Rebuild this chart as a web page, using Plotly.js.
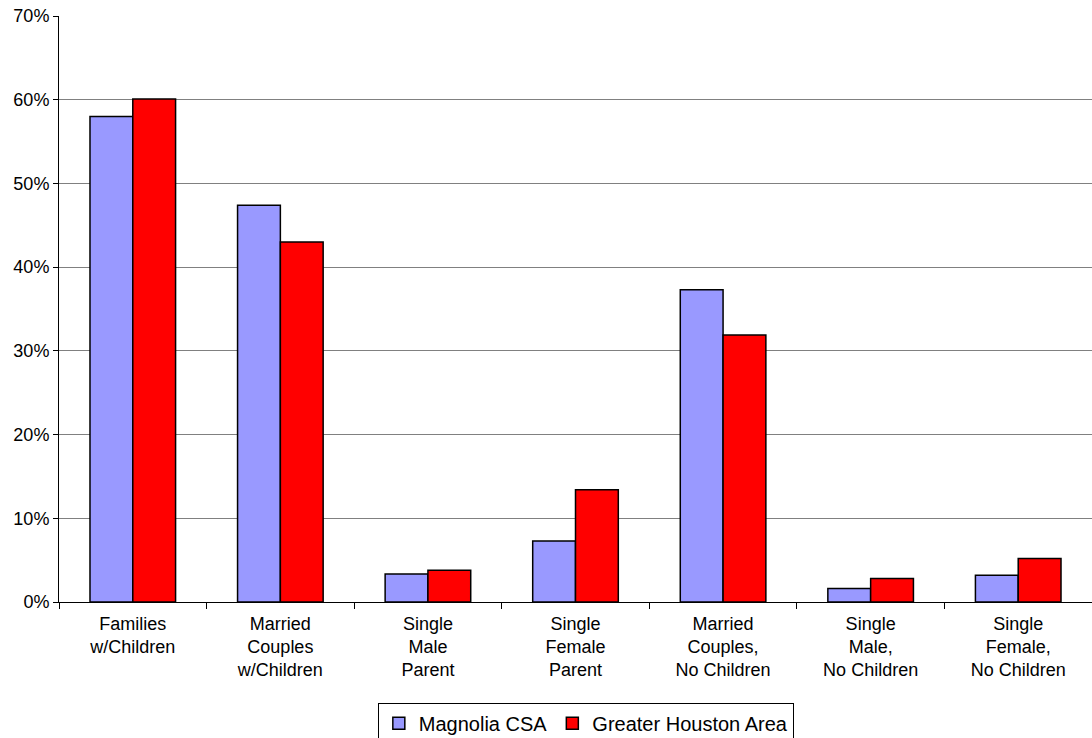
<!DOCTYPE html>
<html>
<head>
<meta charset="utf-8">
<script src="https://cdn.plot.ly/plotly-3.0.1.min.js"></script>
<style>html,body{margin:0;padding:0;background:#fff;}#chart{width:1092px;height:738px;}</style>
</head>
<body>
<div id="chart"></div>
<script>
const categories = ["Families<br>w/Children", "Married<br>Couples<br>w/Children", "Single<br>Male<br>Parent", "Single<br>Female<br>Parent", "Married<br>Couples,<br>No Children", "Single<br>Male,<br>No Children", "Single<br>Female,<br>No Children"];
const magnolia = [58.0, 47.4, 3.35, 7.3, 37.3, 1.6, 3.2];
const houston = [60.1, 43.0, 3.8, 13.4, 31.9, 2.8, 5.2];
const yTicks = [0, 10, 20, 30, 40, 50, 60, 70];

const traces = [
  {type: 'bar', name: 'Magnolia CSA', x: categories, y: magnolia,
   marker: {color: '#9999FF', line: {color: '#000', width: 1.5}}},
  {type: 'bar', name: 'Greater Houston Area', x: categories, y: houston,
   marker: {color: '#FF0000', line: {color: '#000', width: 1.5}}}
];
const layout = {
  width: 1092, height: 738,
  margin: {l: 59, r: 0, t: 16, b: 136, autoexpand: false},
  paper_bgcolor: '#fff', plot_bgcolor: '#fff',
  font: {family: 'Liberation Sans, Arial, sans-serif', size: 18, color: '#000'},
  barmode: 'group', bargap: 0.42, bargroupgap: 0,
  showlegend: true,
  legend: {orientation: 'h', x: 0.51, xanchor: 'center', y: -0.172, yanchor: 'top',
    font: {size: 20}, bordercolor: '#000', borderwidth: 1, bgcolor: '#fff',
    itemwidth: 30, tracegroupgap: 0},
  xaxis: {type: 'category', showline: true, linecolor: '#000', linewidth: 1,
    ticks: 'outside', tickson: 'boundaries', ticklen: 6, tickcolor: '#000',
    ticklabelstandoff: 5, showgrid: false, tickfont: {size: 18}},
  yaxis: {range: [0, 70], tickvals: yTicks, ticktext: yTicks.map(v => v + '%'),
    showline: true, linecolor: '#000', linewidth: 1, ticks: 'outside', ticklen: 5,
    tickcolor: '#000', showgrid: true, gridcolor: '#808080', gridwidth: 1,
    zeroline: false, tickfont: {size: 18}}
};
Plotly.newPlot('chart', traces, layout, {displayModeBar: false, staticPlot: true});
</script>
</body>
</html>
